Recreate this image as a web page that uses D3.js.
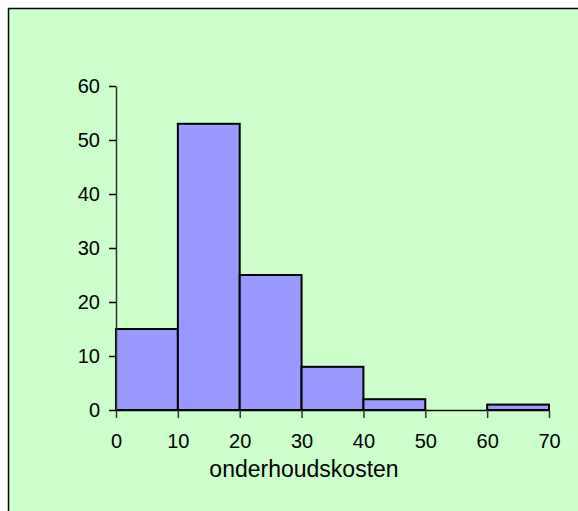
<!DOCTYPE html>
<html>
<head>
<meta charset="utf-8">
<script src="https://cdn.jsdelivr.net/npm/d3@7"></script>
<style>
  body { margin: 0; background: #fff; }
  text { font-family: "Liberation Sans", Arial, sans-serif; fill: #000; }
</style>
</head>
<body>
<div id="main"></div>
<script>
// histogram bins (lower edge, upper edge) and counts
const binStarts = [0, 10, 20, 30, 40, 50, 60];
const binEnds = [10, 20, 30, 40, 50, 60, 70];
const counts = [15, 53, 25, 8, 2, 0, 1];
const xTicks = [0, 10, 20, 30, 40, 50, 60, 70];
const yTicks = [0, 10, 20, 30, 40, 50, 60];
const xTitle = "onderhoudskosten";

const width = 578, height = 511;

const svg = d3.select("#main").append("svg")
    .attr("width", width)
    .attr("height", height);

// background panel with only top/left edge visible
svg.append("rect")
    .attr("x", 8.5).attr("y", 8.5)
    .attr("width", width + 10).attr("height", height + 10)
    .attr("fill", "#ccffcc")
    .attr("stroke", "#000")
    .attr("stroke-width", 1.5);

const x = d3.scaleLinear().domain([0, 70]).range([116, 549]);
const y = d3.scaleLinear().domain([0, 60]).range([410, 86]);

const bins = binStarts.map((s, i) => ({x0: s, x1: binEnds[i], n: counts[i]}));

svg.selectAll(".bar")
    .data(bins.filter(d => d.n > 0))
    .enter().append("rect")
    .attr("class", "bar")
    .attr("x", d => x(d.x0))
    .attr("y", d => y(d.n))
    .attr("width", d => x(d.x1) - x(d.x0))
    .attr("height", d => y(0) - y(d.n))
    .attr("fill", "#9999ff")
    .attr("stroke", "#000")
    .attr("stroke-width", 2);

// y axis
const yAxis = svg.append("g")
    .attr("transform", "translate(" + x(0) + ",0)")
    .call(d3.axisLeft(y).tickValues(yTicks).tickSize(7).tickSizeOuter(0).tickPadding(9));
yAxis.select(".domain").attr("stroke", "#333").attr("stroke-width", 1.5);
yAxis.selectAll(".tick line").attr("stroke", "#000").attr("stroke-width", 1.5);
yAxis.attr("font-size", null).attr("font-family", null);
yAxis.selectAll("text").style("font-size", "20px");

// x axis
const xAxis = svg.append("g")
    .attr("transform", "translate(0," + y(0) + ")")
    .call(d3.axisBottom(x).tickValues(xTicks).tickSize(8).tickSizeOuter(0).tickPadding(16));
xAxis.select(".domain").attr("stroke", "#000").attr("stroke-width", 1.5);
xAxis.selectAll(".tick line").attr("stroke", "#333").attr("stroke-width", 1.5);
xAxis.attr("font-size", null).attr("font-family", null);
xAxis.selectAll("text").style("font-size", "20px");

// x title
svg.append("text")
    .attr("x", 304)
    .attr("y", 477)
    .style("text-anchor", "middle")
    .style("font-size", "23px")
    .text(xTitle);
</script>
</body>
</html>
